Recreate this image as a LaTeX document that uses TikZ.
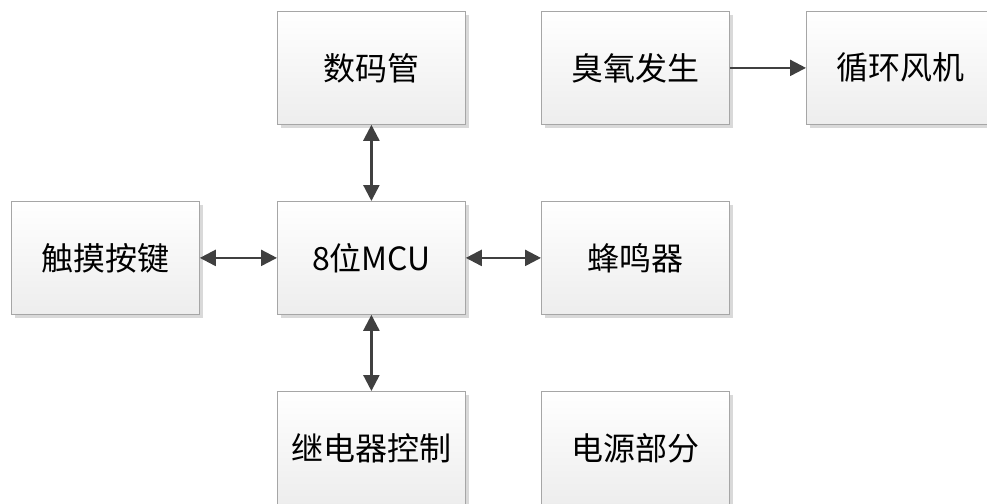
\documentclass[tikz,border=0pt]{standalone}
\usepackage{fontspec}
\setmainfont{Noto Sans CJK SC}
\usetikzlibrary{arrows.meta}
\definecolor{boxline}{HTML}{A6A6A6}
\definecolor{arrowc}{HTML}{404040}
\definecolor{shadowc}{HTML}{D9D9D9}
\begin{document}
\begin{tikzpicture}[x=1pt,y=-1pt,
  blk/.style={minimum width=188pt,minimum height=113pt,inner sep=0pt,
    draw=boxline,line width=0.8pt,top color=white,bottom color=black!7,
    font=\fontsize{32}{36}\selectfont,anchor=north west},
  link/.style={draw=arrowc,line width=2.4pt,{Triangle[length=16pt,width=16pt]}-{Triangle[length=16pt,width=16pt]}},
  onelink/.style={draw=arrowc,line width=2.4pt,-{Triangle[length=16pt,width=16pt]}}]
\useasboundingbox (0,0) rectangle (987,503);
\clip (0,0) rectangle (987,503);
\foreach \x/\y in {277/11,541/11,806/11,11/201,277/201,541/201,277/391,541/391}
  \fill[shadowc] (\x+4,\y+4) rectangle ++(188,113);
\node[blk] (smg) at (277,11) {数码管};
\node[blk] (cy) at (541,11) {臭氧发生};
\node[blk] (fj) at (806,11) {循环风机};
\node[blk] (aj) at (11,201) {触摸按键};
\node[blk] (mcu) at (277,201) {8位MCU};
\node[blk] (fmq) at (541,201) {蜂鸣器};
\node[blk] (jdq) at (277,391) {继电器控制};
\node[blk] (dy) at (541,391) {电源部分};
\draw[link] (smg.south) -- (mcu.north);
\draw[link] (mcu.south) -- (jdq.north);
\draw[link] (aj.east) -- (mcu.west);
\draw[link] (mcu.east) -- (fmq.west);
\draw[onelink] (cy.east) -- (fj.west);
\end{tikzpicture}
\end{document}
